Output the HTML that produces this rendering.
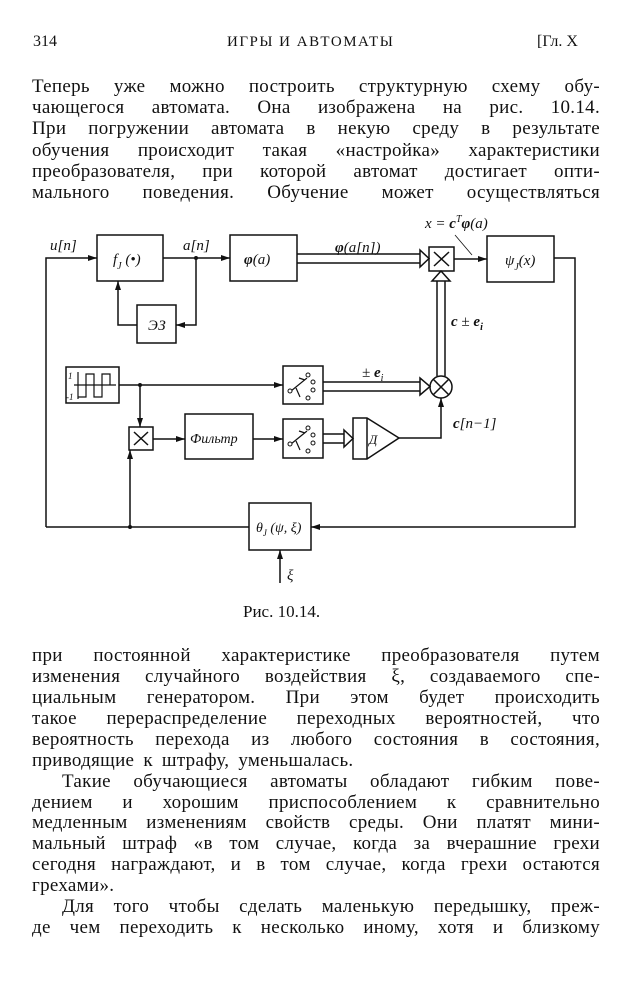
<!DOCTYPE html>
<html><head><meta charset="utf-8"><style>
body{margin:0;background:#fff;width:632px;height:990px;position:relative;overflow:hidden;font-family:"Liberation Serif","DejaVu Serif",serif;color:#111}
.l{position:absolute;left:32px;width:568px;font-size:19px;line-height:22px;height:22px;text-align:justify;text-align-last:justify;white-space:nowrap;letter-spacing:0.3px}
.l.n{text-align-last:left}
.h{position:absolute;font-size:16px;line-height:20px;top:32px}
svg text{font-family:"Liberation Serif",serif;font-style:italic;fill:#111}
</style></head><body>
<div class="h" style="left:33px">314</div>
<div class="h" style="left:227px;letter-spacing:1.5px;font-size:15px">ИГРЫ И АВТОМАТЫ</div>
<div class="h" style="left:537px">[Гл. X</div>

<div class="l" style="top:76px">Теперь уже можно построить структурную схему обу-</div>
<div class="l" style="top:97px">чающегося автомата. Она изображена на рис. 10.14.</div>
<div class="l" style="top:118px">При погружении автомата в некую среду в результате</div>
<div class="l" style="top:140px">обучения происходит такая «настройка» характеристики</div>
<div class="l" style="top:161px">преобразователя, при которой автомат достигает опти-</div>
<div class="l" style="top:182px">мального поведения. Обучение может осуществляться</div>

<svg style="position:absolute;left:0;top:0" width="632" height="640" viewBox="0 0 632 640">
<defs>
<marker id="a" markerWidth="10" markerHeight="8" refX="9" refY="4" orient="auto" markerUnits="userSpaceOnUse"><path d="M0,1 L9,4 L0,7 Z" fill="#111"/></marker>
</defs>
<g stroke="#111" stroke-width="1.5" fill="none">
<rect x="97" y="235" width="66" height="46"/>
<rect x="230" y="235" width="67" height="46"/>
<rect x="137" y="305" width="39" height="38"/>
<rect x="487" y="236" width="67" height="46"/>
<rect x="429" y="247" width="25" height="24"/>
<rect x="66" y="367" width="53" height="36"/>
<rect x="283" y="366" width="40" height="38"/>
<rect x="283" y="419" width="40" height="39"/>
<rect x="129" y="427" width="24" height="23"/>
<rect x="185" y="414" width="68" height="45"/>
<rect x="249" y="503" width="62" height="47"/>
<circle cx="441" cy="387" r="11"/>
<path d="M433,379 L449,395 M449,379 L433,395"/>
<path d="M434,252 L449,266 M449,252 L434,266"/>
<path d="M134,432 L148,445 M148,432 L134,445"/>
<path d="M353,418 L367,418 L399,438 L367,459 L353,459 Z M367,418 L367,459"/>
<path d="M46,527 L46,258 L97,258" marker-end="url(#a)"/>
<path d="M163,258 L230,258" marker-end="url(#a)"/>
<path d="M196,258 L196,325 L176,325" marker-end="url(#a)"/>
<path d="M137,325 L118,325 L118,281" marker-end="url(#a)"/>
<path d="M454,259 L487,259" marker-end="url(#a)"/>
<path d="M554,258 L575,258 L575,527 L311,527" marker-end="url(#a)"/>
<path d="M249,527 L46,527"/>
<path d="M130,527 L130,450" marker-end="url(#a)"/>
<path d="M280,583 L280,550" marker-end="url(#a)"/>
<path d="M119,385 L283,385" marker-end="url(#a)"/>
<path d="M140,385 L140,427" marker-end="url(#a)"/>
<path d="M153,439 L185,439" marker-end="url(#a)"/>
<path d="M253,439 L283,439" marker-end="url(#a)"/>
<path d="M399,438 L441,438 L441,398" marker-end="url(#a)"/>
<path d="M455,235 L472,255" stroke-width="0.8"/>
<path d="M297,254 L420,254 M297,263 L420,263 M420,250 L429,258.5 L420,267 Z"/>
<path d="M323,382 L420,382 M323,391 L420,391 M420,378 L430,386.5 L420,395 Z"/>
<path d="M323,434 L344,434 M323,443 L344,443 M344,430 L353,438.5 L344,447 Z"/>
<path d="M437,376 L437,281 M445,376 L445,281 M432,281 L441,271 L450,281 Z"/>
<path d="M74,385 L116,385 M78,372 L78,399 M78,397 L86,397 L86,374 L94,374 L94,397 L102,397 L102,374 L110,374 L110,385" stroke-width="1.2"/>
<path d="M291,391 L307,378 M296,388 L300,397 M299,378 L305,380" stroke-width="1.2"/>
<path d="M291,444 L307,431 M296,441 L300,450 M299,431 L305,433" stroke-width="1.2"/>
</g>
<g fill="#fff" stroke="#111" stroke-width="1">
<circle cx="290" cy="391" r="2"/><circle cx="308" cy="375" r="2"/><circle cx="313" cy="382" r="2"/><circle cx="313" cy="390" r="2"/><circle cx="308" cy="398" r="2"/>
<circle cx="290" cy="444" r="2"/><circle cx="308" cy="428" r="2"/><circle cx="313" cy="435" r="2"/><circle cx="313" cy="443" r="2"/><circle cx="308" cy="451" r="2"/>
</g>
<g fill="#111"><circle cx="196" cy="258" r="2"/><circle cx="140" cy="385" r="2"/><circle cx="130" cy="527" r="2"/></g>
<g font-size="15">
<text x="50" y="250">u[n]</text>
<text x="113" y="264">f<tspan font-size="10" dy="5">J</tspan><tspan dy="-5"> (•)</tspan></text>
<text x="183" y="250">a[n]</text>
<text x="244" y="264" font-weight="bold">φ<tspan font-weight="normal">(a)</tspan></text>
<text x="148" y="330">ЭЗ</text>
<text x="335" y="252"><tspan font-weight="bold">φ</tspan>(a[n])</text>
<text x="425" y="228">x = <tspan font-weight="bold">c</tspan><tspan font-size="10" dy="-6">T</tspan><tspan dy="6" font-weight="bold">φ</tspan>(a)</text>
<text x="505" y="265">ψ<tspan font-size="10" dy="5">J</tspan><tspan dy="-5">(x)</tspan></text>
<text x="451" y="326" font-weight="bold">c <tspan font-weight="normal">±</tspan> e<tspan font-size="10" dy="4">i</tspan></text>
<text x="362" y="377">± <tspan font-weight="bold">e</tspan><tspan font-size="10" dy="4">i</tspan></text>
<text x="453" y="428"><tspan font-weight="bold">c</tspan>[n−1]</text>
<text x="190" y="443" font-size="14">Фильтр</text>
<text x="369" y="444" font-size="13">Д</text>
<text x="256" y="532" font-size="14">θ<tspan font-size="9" dy="4">J</tspan><tspan dy="-4"> (ψ, ξ)</tspan></text>
<text x="287" y="580">ξ</text>
<text x="68" y="379" font-size="9">1</text>
<text x="66" y="400" font-size="9">-1</text>
</g>
<text x="243" y="617" font-size="17" style="font-style:normal">Рис. 10.14.</text>
</svg>

<div class="l" style="top:645px">при постоянной характеристике преобразователя путем</div>
<div class="l" style="top:666px">изменения случайного воздействия ξ, создаваемого спе-</div>
<div class="l" style="top:687px">циальным генератором. При этом будет происходить</div>
<div class="l" style="top:708px">такое перераспределение переходных вероятностей, что</div>
<div class="l" style="top:729px">вероятность перехода из любого состояния в состояния,</div>
<div class="l n" style="top:750px;word-spacing:4px">приводящие к штрафу, уменьшалась.</div>
<div class="l" style="top:771px;left:62px;width:538px">Такие обучающиеся автоматы обладают гибким пове-</div>
<div class="l" style="top:792px">дением и хорошим приспособлением к сравнительно</div>
<div class="l" style="top:812px">медленным изменениям свойств среды. Они платят мини-</div>
<div class="l" style="top:833px">мальный штраф «в том случае, когда за вчерашние грехи</div>
<div class="l" style="top:854px">сегодня награждают, и в том случае, когда грехи остаются</div>
<div class="l n" style="top:875px">грехами».</div>
<div class="l" style="top:896px;left:62px;width:538px">Для того чтобы сделать маленькую передышку, преж-</div>
<div class="l" style="top:917px">де чем переходить к несколько иному, хотя и близкому</div>
</body></html>
